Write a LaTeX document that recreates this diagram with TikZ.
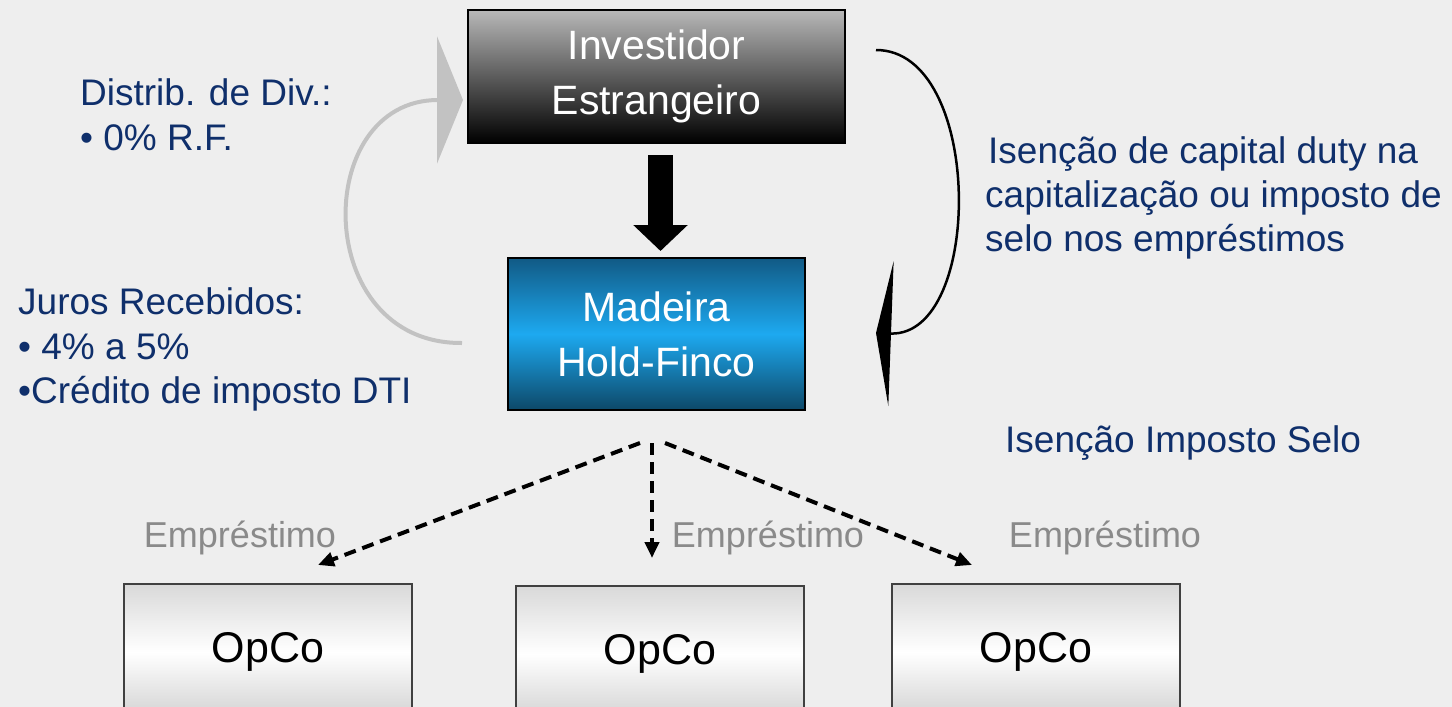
\documentclass[tikz,border=0pt]{standalone}
\usepackage{fontspec}
\setmainfont{Liberation Sans}
\usetikzlibrary{arrows.meta}
\definecolor{bg}{HTML}{EEEEEE}
\definecolor{txtblue}{HTML}{0F2F6B}
\definecolor{loangray}{HTML}{8A8A8A}
\definecolor{madtop}{HTML}{115A85}
\definecolor{madmid}{HTML}{1DA9F0}
\definecolor{madbot}{HTML}{0D4868}
\definecolor{curvegray}{HTML}{C2C2C2}
\tikzset{
  boxfont/.style={font=\fontsize{41}{55}\selectfont},
  bodytext/.style={font=\fontsize{37}{45}\selectfont, text=txtblue, anchor=base west, inner sep=0pt},
  loantext/.style={font=\fontsize{36}{40}\selectfont, text=loangray, anchor=base, inner sep=0pt},
  invbox/.style={draw=black, line width=2pt, top color=black!28, bottom color=black,
    minimum width=377pt, minimum height=133pt, inner sep=0pt, text=white, align=center, boxfont},
  madbox/.style={draw=black, line width=2pt, top color=madtop, bottom color=madbot, middle color=madmid,
    minimum width=297pt, minimum height=152pt, inner sep=0pt, text=white, align=center, boxfont},
  opcobox/.style={draw=black!75, line width=1.5pt, top color=black!15, bottom color=black!18, middle color=white,
    minimum width=288pt, minimum height=136pt, inner sep=0pt, text=black, font=\fontsize{43}{50}\selectfont},
  loanarrow/.style={line width=4pt, dash pattern=on 12pt off 7pt, -{Triangle[length=16pt,width=14pt]}},
}
\begin{document}
\begin{tikzpicture}[x=1pt,y=-1pt]
\useasboundingbox (0,0) rectangle (1452,707);
\fill[bg] (0,0) rectangle (1452,707);
\clip (0,0) rectangle (1452,707);

% boxes
\node[invbox] (inv) at (656.5,76.5) {Investidor\\Estrangeiro};
\node[madbox] (mad) at (656.5,334) {Madeira\\Hold-Finco};
\node[opcobox] (op1) at (268,652) {OpCo};
\node[opcobox] (op2) at (660,654) {OpCo};
\node[opcobox] (op3) at (1036,652) {OpCo};

% thick arrow investor -> Madeira
\draw[line width=25pt, -{Triangle[length=26pt,width=53pt]}, shorten <=11pt, shorten >=6pt]
  ([xshift=4pt]inv.south) -- ([xshift=4pt]mad.north);

% grey return arrow
\coordinate (gs) at (462,343);
\coordinate (ge) at (463,100);
\draw[curvegray, line width=4pt, -{Triangle[length=26pt,width=127pt]}]
  (gs) .. controls (311,344) and (311,100) .. (ge);

% black right arrow
\coordinate (bs) at (876,50);
\coordinate (be) at (876,333);
\draw[black, line width=2.5pt, -{Triangle[length=15pt,width=145pt]}]
  (bs) .. controls (984,50) and (984,337) .. (be);

% loan arrows
\coordinate (l1s) at (640,443);
\coordinate (l2s) at (652,443);
\coordinate (l3s) at (665,443);
\coordinate (l1e) at (318,565);
\coordinate (l2e) at (652,558);
\coordinate (l3e) at (972,565);
\draw[loanarrow] (l1s) -- (l1e);
\draw[loanarrow] (l2s) -- (l2e);
\draw[loanarrow] (l3s) -- (l3e);

% loan labels
\node[loantext] (e1) at (240,547) {Empréstimo};
\node[loantext] (e2) at (768,547) {Empréstimo};
\node[loantext] (e3) at (1105,547) {Empréstimo};

% left texts
\node[bodytext] (d1) at (80,105) {Distrib. de Div.:};
\node[bodytext] (d2) at (80,150) {• 0\% R.F.};
\node[bodytext] (j1) at (18,314) {Juros Recebidos:};
\node[bodytext] (j2) at (18,359) {• 4\% a 5\%};
\node[bodytext] (j3) at (18,403) {•Crédito de imposto DTI};

% right texts
\node[bodytext] (r1) at (988,163) {Isenção de capital duty na};
\node[bodytext] (r2) at (985,207) {capitalização ou imposto de};
\node[bodytext] (r3) at (985,251) {selo nos empréstimos};
\node[bodytext] (r4) at (1005,452) {Isenção Imposto Selo};
\end{tikzpicture}
\end{document}
